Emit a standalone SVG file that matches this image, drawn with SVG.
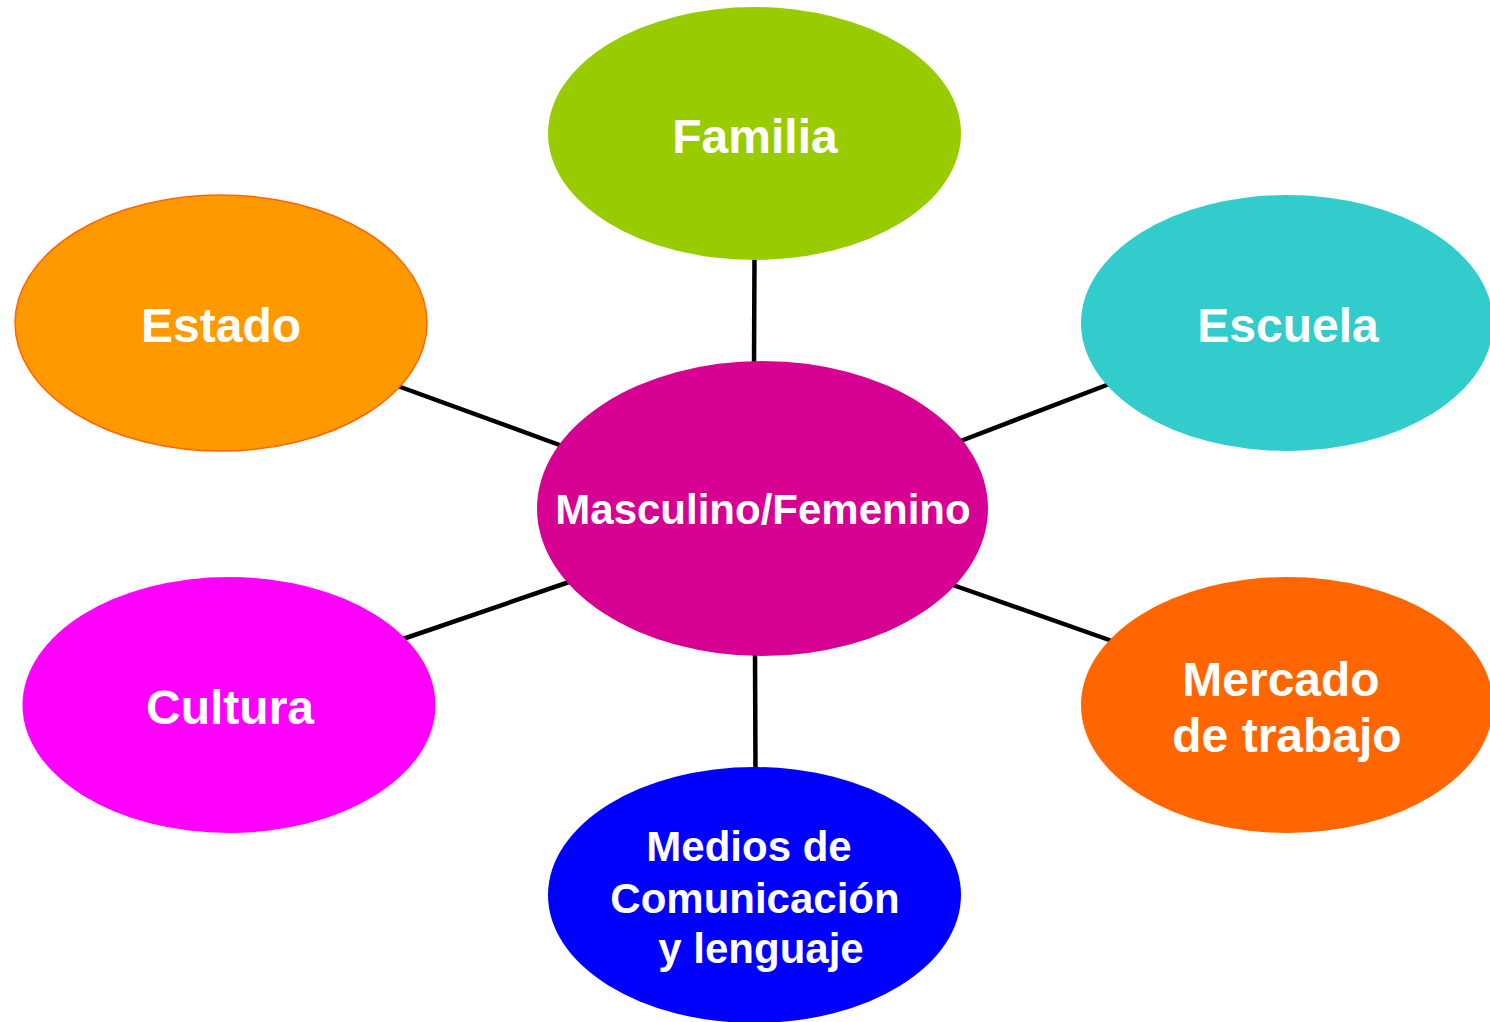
<svg xmlns="http://www.w3.org/2000/svg" width="1490" height="1022" viewBox="0 0 1490 1022">
  <style>
    .lbl { font-family: "Liberation Sans", Arial, sans-serif; font-weight: bold; fill: #FFFFFF; text-anchor: middle; }
    .big { font-size: 48px; }
    .mid { font-size: 42px; }
    .conn { stroke: #000000; stroke-width: 4.5; fill: none; }
  </style>
  <rect width="1490" height="1022" fill="#FFFFFF"/>
  <g id="connectors">
    <line class="conn" x1="754.5" y1="255" x2="754" y2="366"/>
    <line class="conn" x1="395" y1="385" x2="565" y2="447"/>
    <line class="conn" x1="958" y1="442" x2="1112" y2="383"/>
    <line class="conn" x1="400" y1="640" x2="575" y2="580"/>
    <line class="conn" x1="950" y1="584" x2="1115" y2="642"/>
    <line class="conn" x1="755" y1="651" x2="755.5" y2="773"/>
  </g>
  <g id="node-familia">
    <ellipse cx="754.5" cy="133.5" rx="206.5" ry="126.5" fill="#99CC00"/>
    <text class="lbl big" x="755" y="153">Familia</text>
  </g>
  <g id="node-estado">
    <ellipse cx="221" cy="323" rx="206" ry="128" fill="#FF9900" stroke="#FF6600" stroke-width="1.5"/>
    <text class="lbl big" x="221" y="342">Estado</text>
  </g>
  <g id="node-escuela">
    <ellipse cx="1287" cy="323" rx="206" ry="128" fill="#33CCCC"/>
    <text class="lbl big" x="1288" y="342">Escuela</text>
  </g>
  <g id="node-centro">
    <ellipse cx="762.5" cy="508.5" rx="225.5" ry="147.5" fill="#D60093"/>
    <text class="lbl mid" x="763" y="524">Masculino/Femenino</text>
  </g>
  <g id="node-cultura">
    <ellipse cx="229" cy="705" rx="206.5" ry="128" fill="#FF00FF"/>
    <text class="lbl big" x="230" y="724">Cultura</text>
  </g>
  <g id="node-mercado">
    <ellipse cx="1287" cy="705" rx="206" ry="128" fill="#FF6600"/>
    <text class="lbl big" x="1281" y="696">Mercado</text>
    <text class="lbl big" x="1287" y="752">de trabajo</text>
  </g>
  <g id="node-medios">
    <ellipse cx="754.5" cy="895" rx="206.5" ry="128" fill="#0000FF"/>
    <text class="lbl mid" x="749" y="861">Medios de</text>
    <text class="lbl mid" x="755" y="913">Comunicación</text>
    <text class="lbl mid" x="761" y="963">y lenguaje</text>
  </g>
</svg>
